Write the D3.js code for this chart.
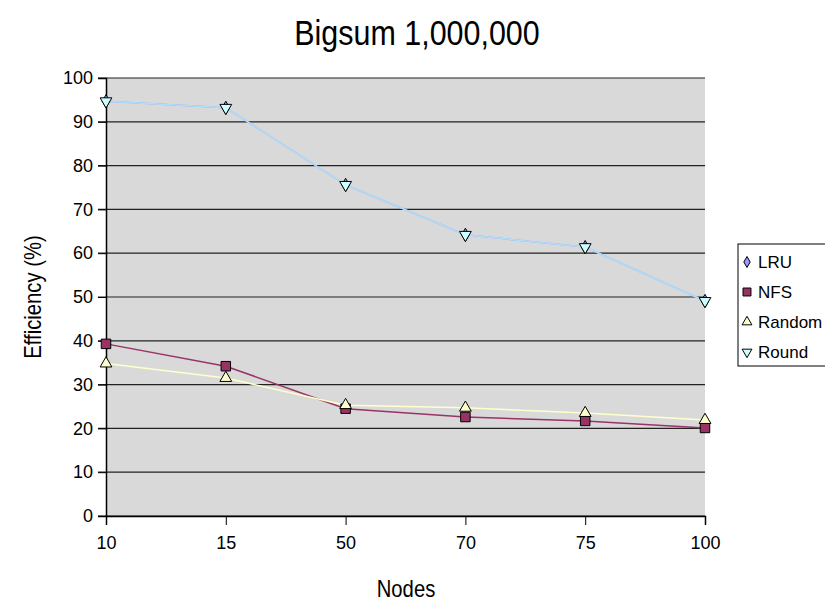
<!DOCTYPE html>
<html>
<head>
<meta charset="utf-8">
<script src="https://cdn.jsdelivr.net/npm/d3@7"></script>
<style>
  body { margin: 0; background: #fff; }
  text { font-family: "Liberation Sans", Arial, sans-serif; fill: #000; }
</style>
</head>
<body>
<div id="chart"></div>
<script>
// datos del grafico
const nodes = ["10", "15", "50", "70", "75", "100"];
const lru = [94.7, 93.2, 75.6, 64.2, 61.4, 49.1];
const nfs = [39.3, 34.2, 24.5, 22.6, 21.7, 20.1];
const random = [34.8, 31.5, 25.3, 24.7, 23.5, 21.9];
const round = [94.7, 93.2, 75.6, 64.2, 61.4, 49.1];
const yTicks = [0, 10, 20, 30, 40, 50, 60, 70, 80, 90, 100];

const series = [
    { name: "LRU", values: lru, line: "#9999ff", fill: "#9999ff", symbol: d3.symbolDiamond, size: 50 },
    { name: "NFS", values: nfs, line: "#993366", fill: "#993366", symbol: d3.symbolSquare, size: 90 },
    { name: "Random", values: random, line: "#ffffcc", fill: "#ffffcc", symbol: d3.symbolTriangle, size: 60 },
    { name: "Round", values: round, line: "#b0e0f8", fill: "#ccffff", symbol: d3.symbolTriangle, size: 60, flip: true }
];

const width = 825;
const height = 605;
const margin = { left: 106, right: 120, top: 78, bottom: 89 };

const svg = d3.select("#chart")
    .append("svg")
    .attr("width", width)
    .attr("height", height);

const x = d3.scalePoint()
    .domain(nodes)
    .range([margin.left, width - margin.right])
    .padding(0);

const y = d3.scaleLinear()
    .domain([0, 100])
    .range([height - margin.bottom, margin.top]);

// fondo gris del area de trazado
svg.append("rect")
    .attr("x", margin.left)
    .attr("y", margin.top)
    .attr("width", x.range()[1] - margin.left)
    .attr("height", y(0) - y(100))
    .attr("fill", "#d9d9d9");

// lineas de cuadricula
svg.append("g")
    .selectAll("line")
    .data(yTicks)
    .enter().append("line")
    .attr("x1", margin.left - 8)
    .attr("x2", x.range()[1])
    .attr("y1", d => y(d))
    .attr("y2", d => y(d))
    .attr("stroke", "#222")
    .attr("stroke-width", 1.2);

// eje y
const yAxis = svg.append("g")
    .attr("transform", `translate(${margin.left},0)`)
    .call(d3.axisLeft(y).tickValues(yTicks).tickSize(8).tickPadding(5));
yAxis.select(".domain").attr("stroke", "#000").attr("stroke-width", 1.5);
yAxis.selectAll("text").style("font-size", "18px");

// eje x
const xAxis = svg.append("g")
    .attr("transform", `translate(0,${y(0)})`)
    .call(d3.axisBottom(x).tickSize(9).tickPadding(11));
xAxis.select(".domain").attr("stroke", "#000").attr("stroke-width", 1.5);
xAxis.selectAll("text").style("font-size", "18px");

// lineas de las series
const line = d3.line()
    .x((d, i) => x(nodes[i]))
    .y(d => y(d));

series.forEach(s => {
    svg.append("path")
        .datum(s.values)
        .attr("fill", "none")
        .attr("stroke", s.line)
        .attr("stroke-width", 1.5)
        .attr("d", line);
});

// marcadores
series.forEach(s => {
    svg.append("g")
        .selectAll("path")
        .data(s.values)
        .enter().append("path")
        .attr("d", d3.symbol().type(s.symbol).size(s.size))
        .attr("transform", (d, i) => `translate(${x(nodes[i])},${y(d)})` + (s.flip ? " rotate(180)" : ""))
        .attr("fill", s.fill)
        .attr("stroke", "#000")
        .attr("stroke-width", 1);
});

// titulo (un poco estrechado como en el original)
svg.append("text")
    .attr("transform", "translate(417,45) scale(0.87,1)")
    .attr("text-anchor", "middle")
    .style("font-size", "35px")
    .text("Bigsum 1,000,000");

// titulos de los ejes
svg.append("text")
    .attr("transform", "translate(406,597) scale(0.88,1)")
    .attr("text-anchor", "middle")
    .style("font-size", "23px")
    .text("Nodes");

svg.append("text")
    .attr("transform", "translate(41,297) rotate(-90) scale(0.88,1)")
    .attr("text-anchor", "middle")
    .style("font-size", "23px")
    .text("Efficiency (%)");

// leyenda
const legend = svg.append("g").attr("transform", "translate(738,244)");
legend.append("rect")
    .attr("width", 100)
    .attr("height", 122)
    .attr("fill", "#fff")
    .attr("stroke", "#000");

const item = legend.selectAll("g.item")
    .data(series)
    .enter().append("g")
    .attr("class", "item")
    .attr("transform", (d, i) => `translate(0,${18 + i * 30})`);

item.append("path")
    .attr("d", d => d3.symbol().type(d.symbol).size(d.size * 0.7)())
    .attr("transform", d => "translate(9,0)" + (d.flip ? " rotate(180)" : ""))
    .attr("fill", d => d.fill)
    .attr("stroke", "#000");

item.append("text")
    .attr("x", 20)
    .attr("y", 6)
    .style("font-size", "17px")
    .text(d => d.name);
</script>
</body>
</html>
